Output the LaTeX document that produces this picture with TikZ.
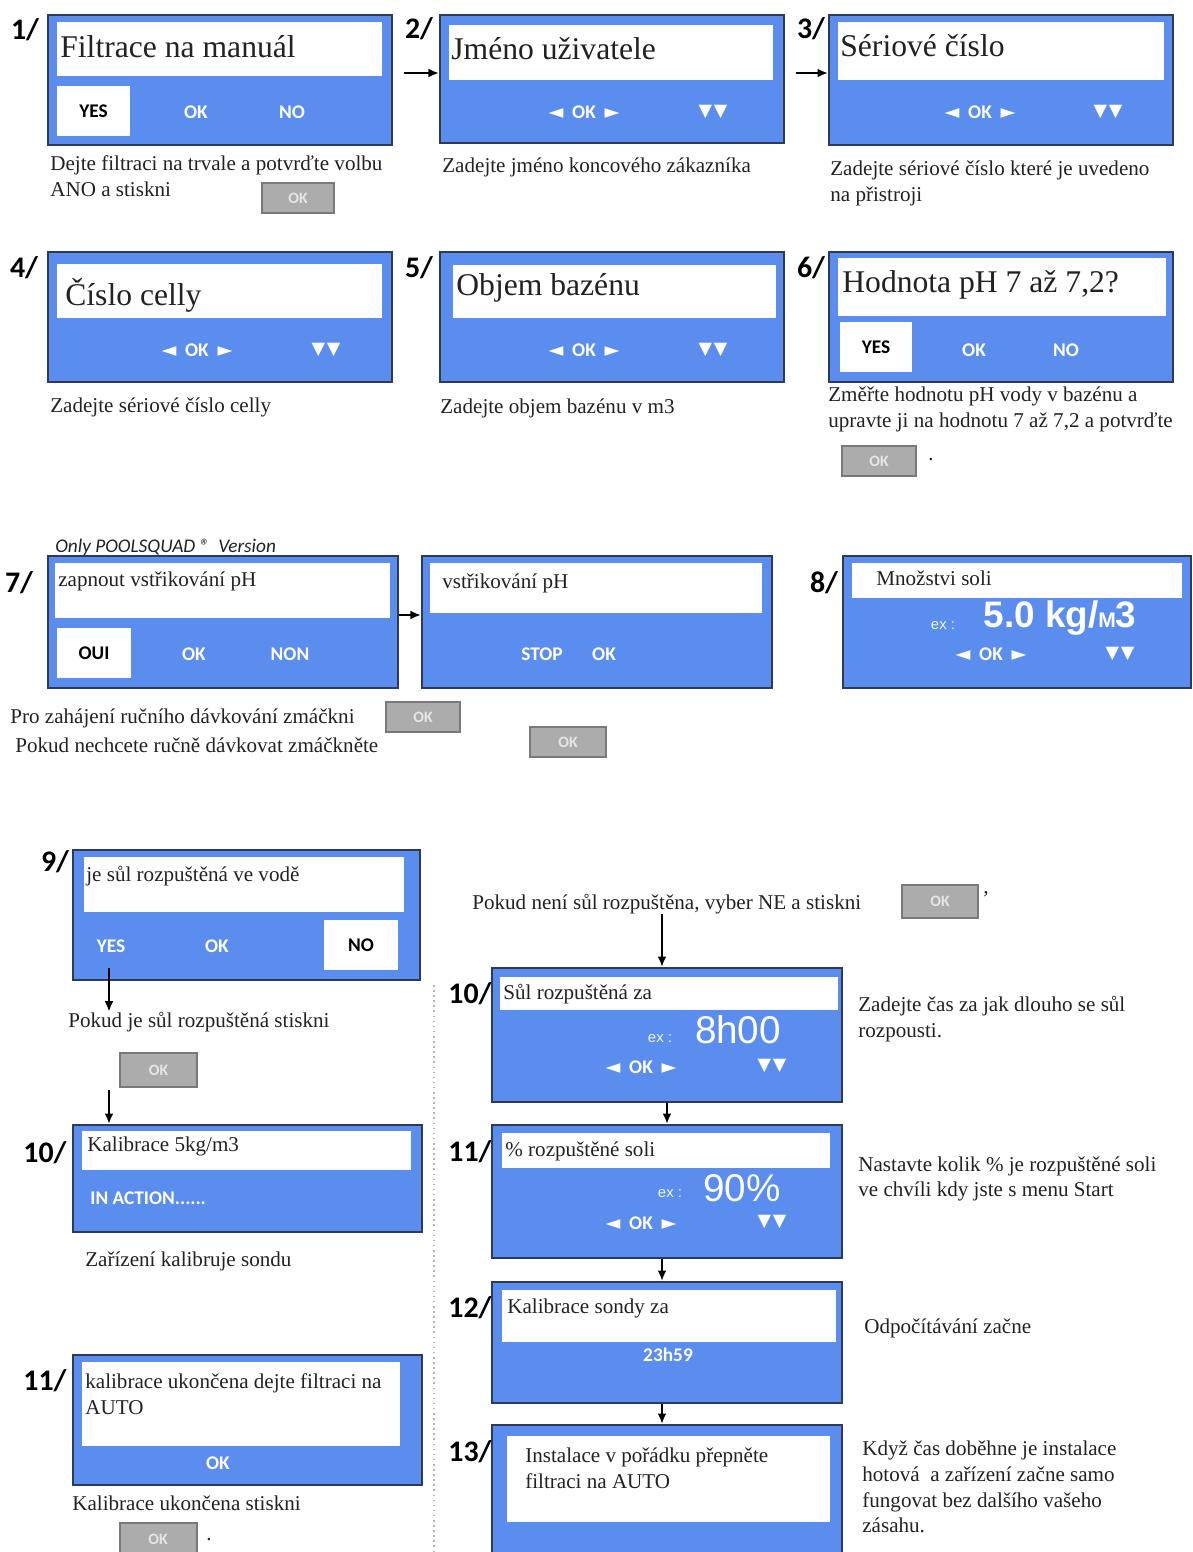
\documentclass[tikz,border=0pt]{standalone}
\usepackage{fontspec}
\setmainfont{Liberation Serif}
\newfontfamily\calib{Carlito}
\newfontfamily\symf{DejaVu Sans}
\newfontfamily\lsans{Liberation Sans}
\usetikzlibrary{fit,arrows.meta}
\definecolor{lcdblue}{RGB}{90,141,238}
\definecolor{lcdedge}{RGB}{44,58,92}
\definecolor{txt}{RGB}{34,34,34}
\newcommand\navlr{{\symf\fontsize{11}{12}\selectfont ◄}\hspace{5pt}OK\hspace{5pt}{\symf\fontsize{11}{12}\selectfont ►}}
\newcommand\navdd{{\symf\fontsize{10}{11}\selectfont ▼\hspace{1pt}▼}}
\tikzset{
 panel/.style={draw=lcdedge, line width=1.1pt, fill=lcdblue, inner sep=0pt},
 bar/.style={fill=white, draw=none, inner sep=0pt},
 btn/.style={fill=white, draw=none, inner sep=0pt},
 big/.style={font=\fontsize{18}{20}\selectfont, text=txt, anchor=west, inner sep=0pt},
 mid/.style={font=\fontsize{12}{14.7}\selectfont, text=txt, anchor=west, inner sep=0pt, align=left},
 desc/.style={font=\fontsize{12}{14.7}\selectfont, text=txt, anchor=west, inner sep=0pt, align=left},
 lbl/.style={font=\calib\bfseries\fontsize{11}{12}\selectfont, text=white, inner sep=0pt},
 lblk/.style={lbl, text=black},
 num/.style={font=\calib\bfseries\fontsize{17}{18}\selectfont, text=black, inner sep=0pt},
 okbtn/.style={fill=gray!65, draw=gray!95!black, line width=1.2pt, inner sep=0pt},
 oktxt/.style={font=\calib\bfseries\fontsize{9}{10}\selectfont, text=gray!20, inner sep=0pt},
 exl/.style={font=\lsans\fontsize{8.5}{9}\selectfont, text=white!92!lcdblue, inner sep=0pt},
 bignum/.style={font=\lsans\fontsize{22}{24}\selectfont, text=white, inner sep=0pt},
 arr/.style={-{Latex[length=6pt,width=5pt]}, line width=1.2pt, black},
}
\begin{document}
\begin{tikzpicture}[x=0.02cm, y=-0.02cm]
\useasboundingbox (0,0) rectangle (1193,1552);
\clip (0,0) rectangle (1193,1552);
\fill[white] (0,0) rectangle (1193,1552);

% ---------- row 1
\node[num] (n1) at (25,30) {1/};
\node[panel, fit={(48,15)(392,145)}] (p1) {};
\node[bar, fit={(57,22)(382,76)}] (t1) {};
\node[big] (h1) at (60,47) {Filtrace na manuál};
\node[btn, fit={(57,86)(130,136)}] (y1) {};
\node[lblk] (y1l) at (y1) {YES};
\node[lbl] (o1) at (196,112) {OK};
\node[lbl] (no1) at (292,112) {NO};
\node[desc] (d1) at (50,176) {Dejte filtraci na trvale a potvrďte volbu\\ANO a stiskni};
\node[okbtn, fit={(262,183)(334,213)}] (k1) {};
\node[oktxt] (k1t) at (k1) {OK};

\node[num] (n2) at (419,29) {2/};
\node[panel, fit={(440,15)(784,143)}] (p2) {};
\node[bar, fit={(449,25)(773,80)}] (t2) {};
\node[big] (h2) at (451,49) {Jméno uživatele};
\node[lbl] (nv2) at (584,112) {\navlr};
\node[lbl] (dd2) at (713,112) {\navdd};
\node[desc] (d2) at (442,167) {Zadejte jméno koncového zákazníka};

\node[num] (n3) at (811,29) {3/};
\node[panel, fit={(829,15)(1173,145)}] (p3) {};
\node[bar, fit={(838,22)(1164,80)}] (t3) {};
\node[big] (h3) at (840,46) {Sériové číslo};
\node[lbl] (nv3) at (980,112) {\navlr};
\node[lbl] (dd3) at (1108,112) {\navdd};
\node[desc] (d3) at (830,183) {Zadejte sériové číslo které je uvedeno\\na přistroji};

\coordinate (r1) at (0,73);
\draw[arr, shorten <=0.22cm] (p1.east |- r1) -- (p2.west |- r1);
\draw[arr, shorten <=0.22cm] (p2.east |- r1) -- (p3.west |- r1);

% ---------- row 2
\node[num] (n4) at (24,268) {4/};
\node[panel, fit={(48,252)(392,382)}] (p4) {};
\node[bar, fit={(57,264)(382,318)}] (t4) {};
\node[big] (h4) at (65,295) {Číslo celly};
\node[lbl] (nv4) at (197,350) {\navlr};
\node[lbl] (dd4) at (326,350) {\navdd};
\node[desc] (d4) at (50,407) {Zadejte sériové číslo celly};

\node[num] (n5) at (419,268) {5/};
\node[panel, fit={(440,252)(784,382)}] (p5) {};
\node[bar, fit={(453,265)(776,318)}] (t5) {};
\node[big] (h5) at (456,288) {Objem bazénu};
\node[lbl] (nv5) at (584,350) {\navlr};
\node[lbl] (dd5) at (713,350) {\navdd};
\node[desc] (d5) at (440,408) {Zadejte objem bazénu v m3};

\node[num] (n6) at (811,268) {6/};
\node[panel, fit={(829,252)(1173,382)}] (p6) {};
\node[bar, fit={(838,258)(1166,316)}] (t6) {};
\node[big] (h6) at (842,285) {Hodnota pH 7 až 7,2?};
\node[btn, fit={(840,322)(912,372)}] (y6) {};
\node[lblk] (y6l) at (y6) {YES};
\node[lbl] (o6) at (974,350) {OK};
\node[lbl] (no6) at (1066,350) {NO};
\node[desc] (d6) at (828,409) {Změřte hodnotu pH vody v bazénu a\\upravte ji na hodnotu 7 až 7,2 a potvrďte};
\node[okbtn, fit={(842,446)(916,476)}] (k6) {};
\node[oktxt] (k6t) at (k6) {OK};
\node[desc] (dot6) at (928,460) {.};

% ---------- row 3
\node[font=\calib\itshape\fontsize{11}{12}\selectfont, text=txt, anchor=west, inner sep=0pt] (only) at (55,547) {Only POOLSQUAD ®\ \ Version};
\node[num] (n7) at (19,583) {7/};
\node[panel, fit={(48,556)(398,688)}] (p7a) {};
\node[bar, fit={(55,563)(390,618)}] (t7a) {};
\node[mid] (h7a) at (58,581) {zapnout vstřikování pH};
\node[btn, fit={(57,628)(131,678)}] (y7) {};
\node[lblk] (y7l) at (y7) {OUI};
\node[lbl] (o7) at (194,654) {OK};
\node[lbl] (no7) at (290,654) {NON};

\node[panel, fit={(422,556)(772,688)}] (p7b) {};
\node[bar, fit={(430,563)(762,613)}] (t7b) {};
\node[mid] (h7b) at (442,583) {vstřikování pH};
\node[lbl] (s7) at (542,654) {STOP};
\node[lbl] (o7b) at (604,654) {OK};

\coordinate (r7) at (0,615);
\draw[arr] (p7a.east |- r7) -- (p7b.west |- r7);

\node[desc] (d7a) at (10,718) {Pro zahájení ručního dávkování zmáčkni};
\node[okbtn, fit={(386,702)(460,732)}] (k7a) {};
\node[oktxt] (k7at) at (k7a) {OK};
\node[desc] (d7b) at (15,745) {Pokud nechcete ručně dávkovat zmáčkněte};
\node[okbtn, fit={(530,727)(606,757)}] (k7b) {};
\node[oktxt] (k7bt) at (k7b) {OK};

\node[num] (n8) at (824,583) {8/};
\node[panel, fit={(843,556)(1191,688)}] (p8) {};
\node[bar, fit={(852,563)(1182,598)}] (t8) {};
\node[mid] (h8) at (876,578) {Množstvi soli};
\node[exl] (ex8) at (943,626) {ex :};
\node[font=\lsans\bfseries\fontsize{21}{23}\selectfont, text=white, inner sep=0pt] (v8) at (1060,618) {5.0 kg/{\fontsize{12}{13}\selectfont M}3};
\node[lbl] (nv8) at (991,654) {\navlr};
\node[lbl] (dd8) at (1120,654) {\navdd};

% ---------- row 4 left
\node[num] (n9) at (55,862) {9/};
\node[panel, fit={(73,850)(420,980)}] (p9) {};
\node[bar, fit={(84,857)(404,912)}] (t9) {};
\node[mid] (h9) at (86,876) {je sůl rozpuštěná ve vodě};
\node[lbl] (y9) at (111,946) {YES};
\node[lbl] (o9) at (217,946) {OK};
\node[btn, fit={(324,920)(398,970)}] (nb9) {};
\node[lblk] (no9) at (nb9) {NO};
\coordinate (a9) at (109,968);
\node[desc] (d9) at (68,1022) {Pokud je sůl rozpuštěná stiskni};
\draw[arr] (a9) -- (a9 |- d9.north);
\node[okbtn, fit={(120,1053)(197,1087)}] (k9) {};
\node[oktxt] (k9t) at (k9) {OK};

\node[num] (n10l) at (45,1153) {10/};
\node[panel, fit={(73,1125)(422,1232)}] (p10l) {};
\node[bar, fit={(82,1131)(411,1170)}] (t10l) {};
\node[mid] (h10l) at (87,1146) {Kalibrace 5kg/m3};
\node[lbl, anchor=west] (ia) at (90,1198) {IN ACTION......};
\node[desc] (d10l) at (85,1261) {Zařízení kalibruje sondu};
\coordinate (b9) at (109,1090);
\draw[arr] (b9) -- (b9 |- p10l.north);

\node[num] (n11l) at (45,1381) {11/};
\node[panel, fit={(73,1355)(422,1485)}] (p11l) {};
\node[bar, fit={(82,1362)(400,1446)}] (t11l) {};
\node[mid] (h11l) at (85,1394) {kalibrace ukončena dejte filtraci na\\AUTO};
\node[lbl] (o11l) at (218,1463) {OK};
\node[desc] (d11l) at (72,1503) {Kalibrace ukončena stiskni};
\node[okbtn, fit={(120,1523)(197,1556)}] (k11l) {};
\node[oktxt] (k11lt) at (158,1539) {OK};
\node[desc] (dot11) at (206,1540) {.};

\draw[gray!60, dotted, line width=0.9pt] (434,985) -- (434,1552);

% ---------- row 4 right
\node[desc] (nr) at (472,904) {Pokud není sůl rozpuštěna, vyber NE a stiskni};
\node[okbtn, fit={(902,885)(978,918)}] (knr) {};
\node[oktxt] (knrt) at (knr) {OK};
\node[desc] (apo) at (982,898) {'};
\coordinate (c10) at (662,922);

\node[num] (n10r) at (470,994) {10/};
\node[panel, fit={(492,968)(842,1102)}] (p10r) {};
\node[bar, fit={(500,977)(838,1010)}] (t10r) {};
\node[mid] (h10r) at (503,994) {Sůl rozpuštěná za};
\node[exl] (ex10) at (660,1039) {ex :};
\node[bignum] (v10) at (738,1030) {8h00};
\node[lbl] (nv10) at (641,1067) {\navlr};
\node[lbl] (dd10) at (772,1066) {\navdd};
\node[desc] (d10r) at (858,1019) {Zadejte čas za jak dlouho se sůl\\rozpousti.};
\draw[arr] (c10 |- nr.south) -- (c10 |- p10r.north);

\node[num] (n11r) at (470,1152) {11/};
\node[panel, fit={(492,1125)(842,1258)}] (p11r) {};
\node[bar, fit={(502,1133)(830,1168)}] (t11r) {};
\node[mid] (h11r) at (505,1151) {\% rozpuštěné soli};
\node[exl] (ex11) at (670,1194) {ex :};
\node[bignum] (v11) at (742,1188) {90\%};
\node[lbl] (nv11) at (641,1223) {\navlr};
\node[lbl] (dd11) at (772,1222) {\navdd};
\node[desc] (d11r) at (858,1179) {Nastavte kolik \% je rozpuštěné soli\\ve chvíli kdy jste s menu Start};
\draw[arr] (p10r.south) -- (p11r.north);

\node[num] (n12r) at (470,1308) {12/};
\node[panel, fit={(492,1282)(842,1403)}] (p12r) {};
\node[bar, fit={(502,1290)(836,1342)}] (t12r) {};
\node[mid] (h12r) at (507,1308) {Kalibrace sondy za};
\node[lbl] (v12) at (668,1355) {23h59};
\node[desc] (d12r) at (864,1328) {Odpočítávání začne};
\draw[arr] ([xshift=-0.1cm]p11r.south) -- ([xshift=-0.1cm]p11r.south |- p12r.north);

\node[num] (n13r) at (470,1452) {13/};
\node[panel, fit={(492,1425)(842,1570)}] (p13r) {};
\node[bar, fit={(507,1436)(830,1522)}] (t13r) {};
\node[mid] (h13r) at (525,1468) {Instalace v pořádku přepněte\\filtraci na AUTO};
\node[desc] (d13r) at (862,1487) {Když čas doběhne je instalace\\hotová\ \ a zařízení začne samo\\fungovat bez dalšího vašeho\\zásahu.};
\draw[arr] ([xshift=-0.1cm]p12r.south) -- ([xshift=-0.1cm]p12r.south |- p13r.north);
\end{tikzpicture}
\end{document}
